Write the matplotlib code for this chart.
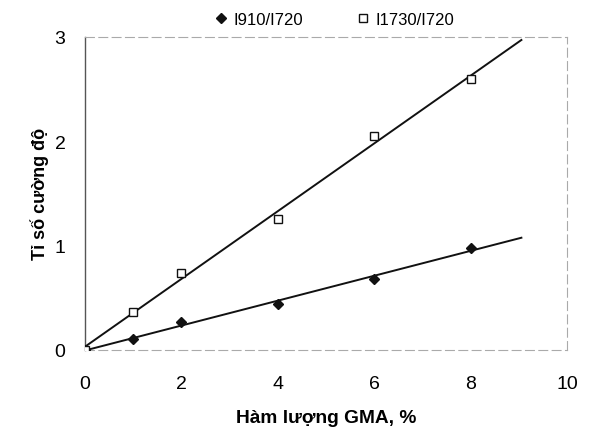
import matplotlib
matplotlib.use("Agg")
import matplotlib.pyplot as plt
import numpy as np

plt.rcParams['font.family'] = ['Liberation Sans', 'DejaVu Sans']

gma = np.array([0, 1, 2, 4, 6, 8])
r910 = np.array([0.0, 0.10, 0.27, 0.44, 0.68, 0.98])
r1730 = np.array([0.0, 0.36, 0.74, 1.25, 2.05, 2.60])
xticks = [0, 2, 4, 6, 8, 10]
yticks = [0, 1, 2, 3]

fig = plt.figure(figsize=(6.06, 4.31), dpi=100)
ax = fig.add_axes([0.140, 0.186, 0.796, 0.726])

xfit = np.array([0, 9.05])
for y in (r910, r1730):
    k, b = np.polyfit(gma, y, 1)
    ax.plot(xfit, k * xfit + b, color='#111111', lw=1.4, zorder=2)

ax.plot(gma, r910, linestyle='none', marker='D', ms=5.5, color='#111111',
        label='I910/I720', zorder=3)
ax.plot(gma, r1730, linestyle='none', marker='s', ms=6, mfc='white',
        mec='#111111', mew=1.0, label='I1730/I720', zorder=3)

ax.set_xlim(0, 10)
ax.set_ylim(0, 3)
ax.set_xticks(xticks)
ax.set_yticks(yticks)
ax.tick_params(length=0, labelsize=14)
ax.tick_params(axis='x', pad=18)
ax.tick_params(axis='y', pad=14)

for s in ('top', 'right', 'bottom'):
    ax.spines[s].set_color('#aaaaaa')
    ax.spines[s].set_linestyle((0, (8, 4)))
    ax.spines[s].set_linewidth(0.8)
ax.spines['left'].set_color('#555555')
ax.spines['left'].set_linewidth(1.0)

ax.set_xlabel('Hàm lượng GMA, %', fontsize=13.8, fontweight='bold', labelpad=12)
ax.set_ylabel('Tỉ số cường độ', fontsize=13, fontweight='bold', labelpad=4)

fig.legend(loc='upper center', bbox_to_anchor=(0.552, 1.005), ncol=2, frameon=False,
           fontsize=12, handlelength=0.8, handletextpad=0.35, columnspacing=3.2)

fig.savefig('out.png', dpi=100)
